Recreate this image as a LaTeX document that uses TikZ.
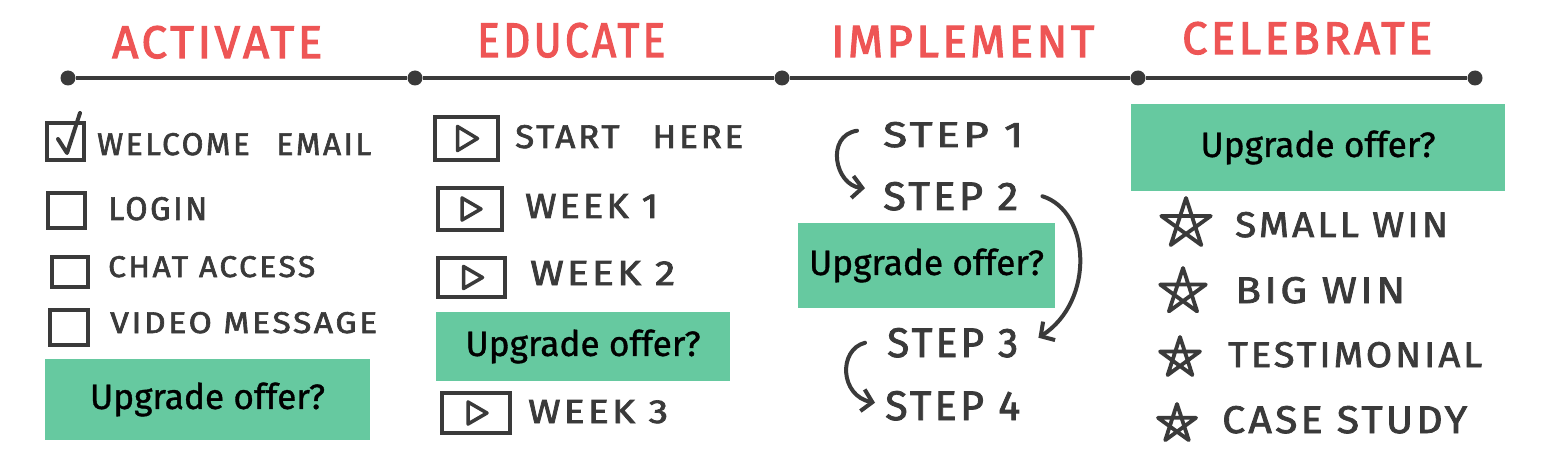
\documentclass[tikz,border=0pt]{standalone}
\usepackage{fontspec}
\usepackage{graphicx}
\usetikzlibrary{arrows.meta}
\newfontfamily\skfont[LetterSpace=8,FakeBold=2]{Fira Sans}
\newfontfamily\ttlfont[LetterSpace=8,FakeBold=2.5]{Fira Sans}
\newfontfamily\upfont[FakeBold=1]{Fira Sans}
\definecolor{pencil}{HTML}{3A3A3A}
\definecolor{titlered}{HTML}{EE5555}
\definecolor{offer}{HTML}{66C9A0}
\newcommand\fitxt[3]{\resizebox{#1pt}{#2pt}{#3}}
\tikzset{
  sk/.style={inner sep=0pt, anchor=base west, text=pencil, font=\skfont},
  ttl/.style={inner sep=0pt, anchor=base west, text=titlered, font=\ttlfont},
  dot/.style={circle, fill=pencil, inner sep=0pt, minimum size=15pt},
  tl/.style={draw=pencil, line width=4.5pt},
  cbox/.style={draw=pencil, line width=4pt, inner sep=0pt},
  pbox/.style={draw=pencil, line width=4pt, inner sep=0pt},
  tri/.style={draw=pencil, line width=3.5pt, line join=round},
  offerbox/.style={fill=offer, inner sep=0pt, text=black, font=\upfont},
  arr/.style={draw=pencil, line width=4pt, line cap=round, -{Straight Barb[length=10pt,width=22pt]}},
  starline/.style={draw=pencil, line width=3.8pt, line join=round},
}
\begin{document}
\begin{tikzpicture}[x=1pt,y=-1pt]
\fill[white] (0,0) rectangle (1545,473);
\useasboundingbox (0,0) rectangle (1545,473);

% titles
\node[ttl] (t1) at (112,58) {\fitxt{210}{32}{ACTIVATE}};
\node[ttl] (t2) at (477,57) {\fitxt{188}{34}{EDUCATE}};
\node[ttl] (t3) at (831,57) {\fitxt{263}{31}{IMPLEMENT}};
\node[ttl] (t4) at (1182,54) {\fitxt{250}{32}{CELEBRATE}};

% timeline
\node[dot] (d1) at (68,78) {};
\node[dot] (d2) at (415,78) {};
\node[dot] (d3) at (782,78) {};
\node[dot] (d4) at (1138,78) {};
\node[dot] (d5) at (1475,78) {};
\draw[tl] (d1) -- (d2) -- (d3) -- (d4) -- (d5);

% column 1
\node[cbox, minimum width=37pt, minimum height=37pt] (cb1) at (65.5,141.5) {};
\node[cbox, minimum width=37pt, minimum height=35pt] (cb2) at (66.5,210.5) {};
\node[cbox, minimum width=36pt, minimum height=30pt] (cb3) at (70,272) {};
\node[cbox, minimum width=38pt, minimum height=35pt] (cb4) at (69,327.5) {};
\draw[draw=pencil, line width=4pt, line join=round, line cap=round] (58,139) -- (67,153) -- (80,113);
\node[sk] (i1) at (97,155) {\fitxt{274}{22}{WELCOME\hspace{0.5em} EMAIL}};
\node[sk] (i2) at (108,220) {\fitxt{99}{23}{LOGIN}};
\node[sk] (i3) at (108,277) {\fitxt{207}{21}{CHAT ACCESS}};
\node[sk] (i4) at (110,333) {\fitxt{267}{21}{VIDEO MESSAGE}};
\node[offerbox, minimum width=325pt, minimum height=81pt] (u1) at (207.5,399.5) {\resizebox{235pt}{!}{Upgrade offer?}};

% column 2
\node[pbox, minimum width=63pt, minimum height=43pt] (pb1) at (466.5,138.5) {};
\node[pbox, minimum width=64pt, minimum height=42pt] (pb2) at (470,209) {};
\node[pbox, minimum width=67pt, minimum height=39pt] (pb3) at (471.5,277.5) {};
\node[pbox, minimum width=68pt, minimum height=40pt] (pb4) at (476,413) {};
\draw[tri, shift={(pb1.center)}] (-9,-12) -- (-9,12) -- (11,0) -- cycle;
\draw[tri, shift={(pb2.center)}] (-8,-11) -- (-8,11) -- (11,0) -- cycle;
\draw[tri, shift={(pb3.center)}] (-8,-11) -- (-8,11) -- (11,0) -- cycle;
\draw[tri, shift={(pb4.center)}] (-8,-11) -- (-8,11) -- (11,0) -- cycle;
\node[sk] (e1) at (515,148) {\fitxt{228}{23}{START\hspace{0.6em} HERE}};
\node[sk] (e2) at (525,218) {\fitxt{133}{24}{WEEK 1}};
\node[sk] (e3) at (530,285) {\fitxt{145}{24}{WEEK 2}};
\node[sk] (e4) at (528,423) {\fitxt{140}{23}{WEEK 3}};
\node[offerbox, minimum width=294pt, minimum height=69pt] (u2) at (583,346.5) {\resizebox{235pt}{!}{Upgrade offer?}};

% column 3
\node[sk] (s1) at (883,147) {\fitxt{140}{25}{STEP 1}};
\node[sk] (s2) at (883,210) {\fitxt{135}{28}{STEP 2}};
\node[sk] (s3) at (887,357) {\fitxt{131}{29}{STEP 3}};
\node[sk] (s4) at (885,420) {\fitxt{135}{29}{STEP 4}};
\node[offerbox, minimum width=257pt, minimum height=85pt] (u3) at (926.5,265.5) {\resizebox{235pt}{!}{Upgrade offer?}};
\draw[arr] ([xshift=-26pt,yshift=4pt]s1.west) .. controls +(-32,5) and +(-30,-3) .. ([xshift=-18pt,yshift=8pt]s2.west);
\draw[arr] ([xshift=24pt]s2.east) .. controls +(48,15) and +(57,-37) .. ([xshift=20pt,yshift=5pt]s3.east);
\draw[arr] ([xshift=-22pt]s3.west) .. controls +(-27,7) and +(-35,-7) .. ([xshift=-10pt,yshift=3pt]s4.west);

% column 4
\node[offerbox, minimum width=374pt, minimum height=87pt] (u4) at (1318,147.5) {\resizebox{235pt}{!}{Upgrade offer?}};
\coordinate (st1) at (1186,224);
\coordinate (st2) at (1183,292);
\coordinate (st3) at (1180,358);
\coordinate (st4) at (1177,424);
\draw[starline, shift={(st1)}] (-90:26) -- (54:26) -- (198:26) -- (-18:26) -- (126:26) -- cycle;
\draw[starline, shift={(st2)}] (-90:24) -- (54:24) -- (198:24) -- (-18:24) -- (126:24) -- cycle;
\draw[starline, shift={(st3)}] (-90:21) -- (54:21) -- (198:21) -- (-18:21) -- (126:21) -- cycle;
\draw[starline, shift={(st4)}] (-90:20) -- (54:20) -- (198:20) -- (-18:20) -- (126:20) -- cycle;
\node[sk] (w1) at (1235,237) {\fitxt{213}{25}{SMALL WIN}};
\node[sk] (w2) at (1235,303) {\fitxt{170}{26}{BIG WIN}};
\node[sk] (w3) at (1228,367) {\fitxt{254}{25}{TESTIMONIAL}};
\node[sk] (w4) at (1222,433) {\fitxt{245}{27}{CASE STUDY}};
\end{tikzpicture}
\end{document}
